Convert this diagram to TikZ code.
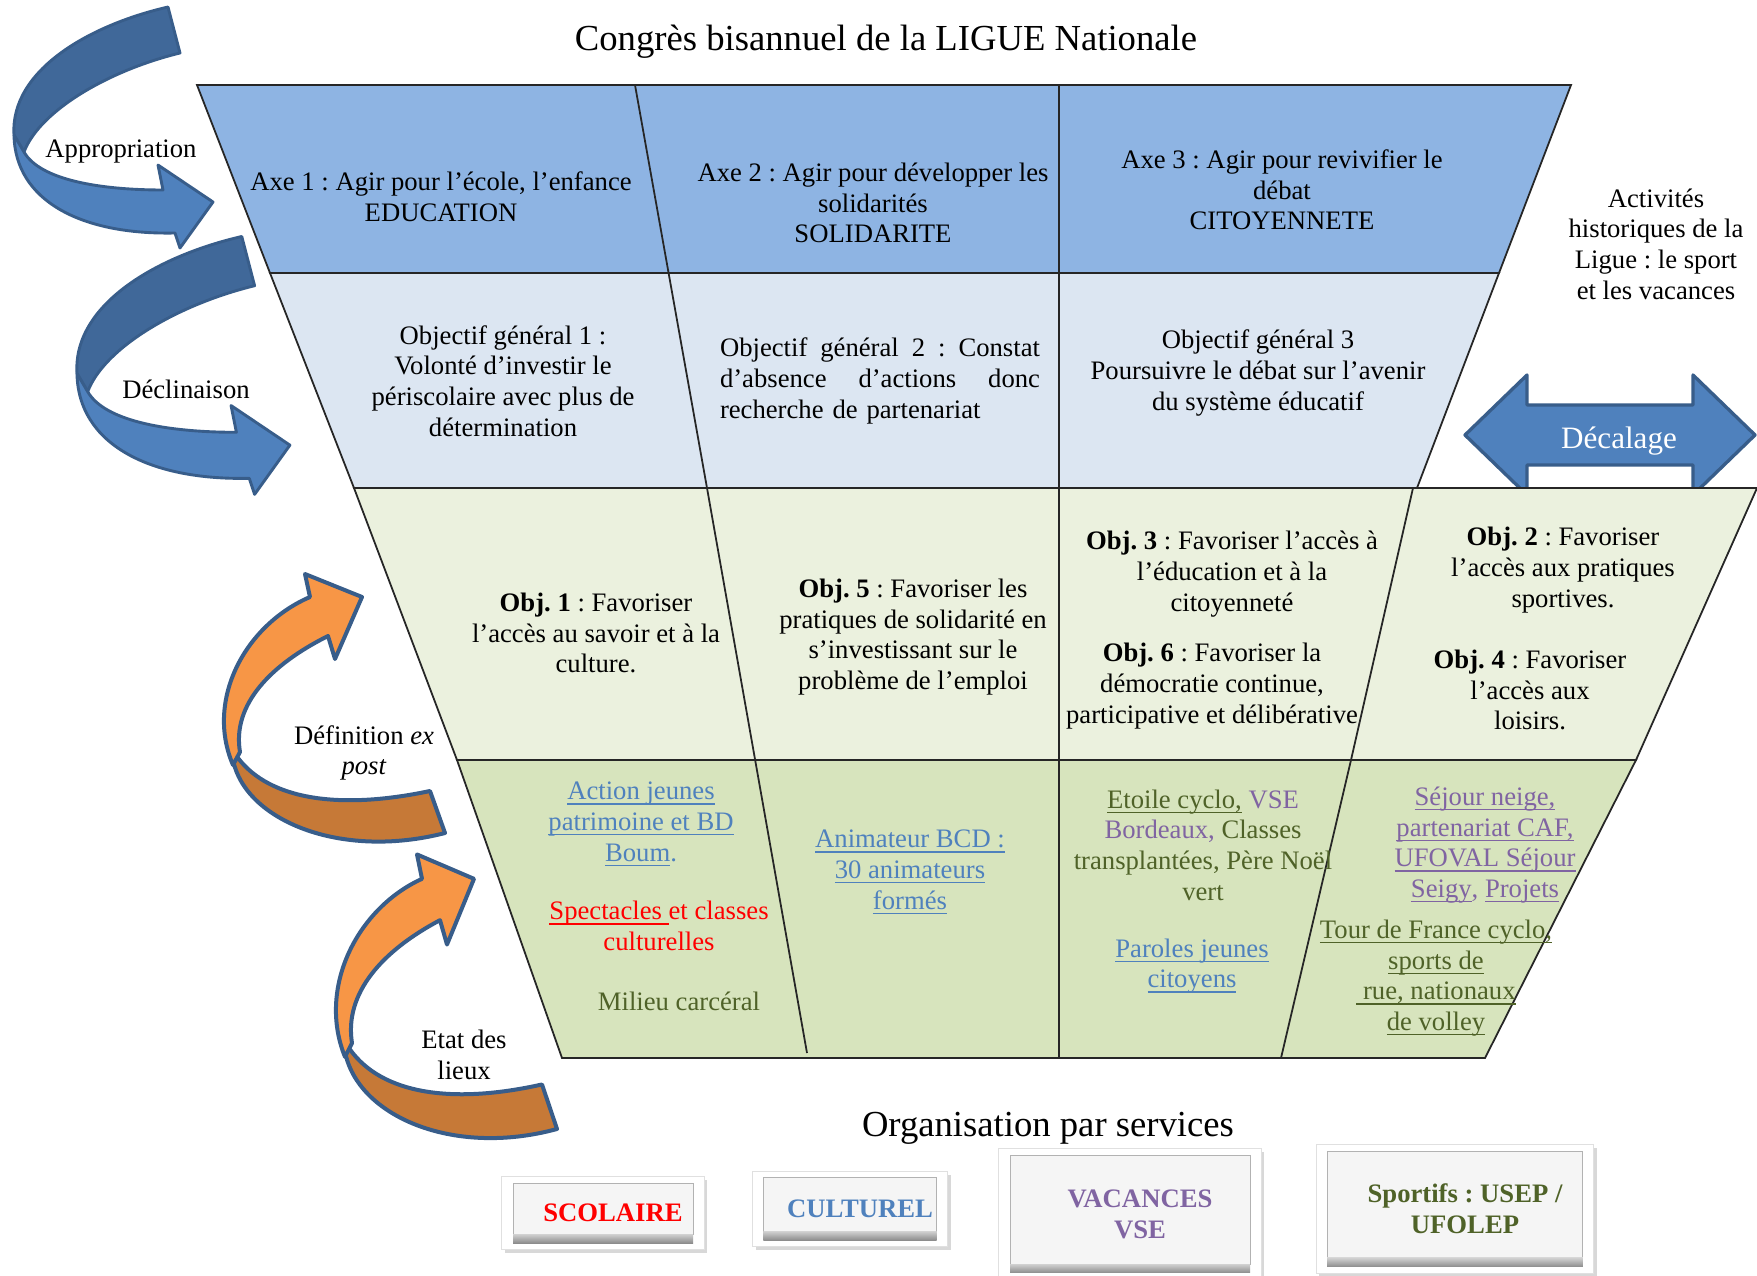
\documentclass[tikz,border=0pt]{standalone}
\usepackage{fontspec}
\setmainfont{Liberation Serif}
\usetikzlibrary{shadows}
\definecolor{axeblue}{RGB}{142,180,227}
\definecolor{genblue}{RGB}{220,230,242}
\definecolor{objgreen}{RGB}{235,241,222}
\definecolor{actgreen}{RGB}{215,228,189}
\definecolor{linkblue}{RGB}{79,129,189}
\definecolor{ufolepgreen}{RGB}{79,98,40}
\definecolor{vsepurple}{RGB}{128,100,162}
\definecolor{arrowlight}{RGB}{79,129,189}
\definecolor{arrowdark}{RGB}{64,104,153}
\definecolor{arrowline}{RGB}{56,93,138}
\definecolor{arroworange}{RGB}{247,150,70}
\definecolor{arrowbrown}{RGB}{198,121,55}
\newcommand{\lien}[1]{\leavevmode\setbox0\hbox{#1}\rlap{\rule[-2.2pt]{\wd0}{0.6pt}}\box0\relax}
\frenchspacing

\begin{document}
\begin{tikzpicture}[x=0.45pt, y=-0.45pt,
  every node/.style={align=center, font=\fontsize{12}{13.8}\selectfont},
  rowline/.style={draw=black!85, line width=0.8pt},
  bouton/.style={rectangle, fill=white, draw=black!12,
    drop shadow={opacity=0.3, shadow xshift=1.5pt, shadow yshift=-1.5pt},
    font=\bfseries\fontsize{12}{14}\selectfont,
    path picture={
      \fill[black!4, draw=black!30, line width=0.4pt]
        ([shift={(5pt,-3pt)}]path picture bounding box.north west) rectangle
        ([shift={(-5pt,7pt)}]path picture bounding box.south east);
      \shade[top color=black!18, bottom color=black!45]
        ([shift={(5pt,7pt)}]path picture bounding box.south west) rectangle
        ([shift={(-5pt,3pt)}]path picture bounding box.south east);
    }}]

\fill[white] (0,0) rectangle (1757,1276);
\useasboundingbox (0,0) rectangle (1757,1276);

% blue ribbons on the left
\foreach \dx/\dy/\s in {0/0/1, 62/229/1.07} {
  \begin{scope}[shift={(\dx,\dy)}, scale=\s]
    \filldraw[fill=arrowdark, draw=arrowline, line width=1.3pt, line join=round]
      (168,7) .. controls (90,25) and (10,70) .. (14,135) -- (24,152)
      .. controls (40,110) and (110,70) .. (180,53) -- cycle;
    \filldraw[fill=arrowlight, draw=arrowline, line width=1.3pt, line join=round]
      (14,135) .. controls (15,200) and (80,235) .. (175,233) -- (180,248) -- (213,202)
      -- (158,165) -- (163,190) .. controls (100,190) and (40,180) .. (24,152) -- cycle;
  \end{scope}
}

% orange ribbons
\foreach \dx/\dy/\s in {0/0/1, 112/246/1.06} {
  \begin{scope}[shift={(\dx,\dy)}, yscale=\s]
    \filldraw[fill=arrowbrown, draw=arrowline, line width=1.8pt, line join=round]
      (233,760) .. controls (245,820) and (340,860) .. (445,833) -- (430,791)
      .. controls (340,810) and (270,800) .. (238,758) -- cycle;
    \filldraw[fill=arroworange, draw=arrowline, line width=1.8pt, line join=round]
      (310,597) .. controls (245,625) and (205,700) .. (233,765) -- (240,752)
      .. controls (232,705) and (270,665) .. (328,636) -- (335,659) -- (362,597)
      -- (305,574) -- cycle;
  \end{scope}
}

% Decalage
\filldraw[fill=arrowlight, draw=arrowline, line width=1.5pt, line join=round]
  (1465,435) -- (1527,375) -- (1527,405) -- (1693,405) -- (1693,375) -- (1755,435)
  -- (1693,495) -- (1693,465) -- (1527,465) -- (1527,495) -- cycle;

% funnel
\draw[rowline, fill=axeblue] (197,85) -- (1571,85) -- (1499,273) -- (270,273) -- cycle;
\draw[rowline, fill=genblue] (270,273) -- (1499,273) -- (1417,488) -- (354,488) -- cycle;
\draw[rowline, fill=objgreen] (354,488) -- (1757,488) -- (1636,760) -- (457,760) -- cycle;
\draw[rowline, fill=actgreen] (457,760) -- (1636,760) -- (1485,1058) -- (562,1058) -- cycle;
\draw[rowline] (635,85) -- (707,488) -- (807,1053);
\draw[rowline] (1059,85) -- (1059,1058);
\draw[rowline] (1413,488) -- (1351,760) -- (1281,1058);

\node[font=\fontsize{16.5}{20}\selectfont] (titre) at (886,42) {Congrès bisannuel de la LIGUE Nationale};

\node (axe1) at (441,197) {Axe 1 : Agir pour l’école, l’enfance\\EDUCATION};
\node (axe2) at (873,203) {Axe 2 : Agir pour développer les\\solidarités\\SOLIDARITE};
\node (axe3) at (1282,190) {Axe 3 : Agir pour revivifier le\\débat\\CITOYENNETE};

\node (og1) at (503,381) {Objectif général 1 :\\Volonté d’investir le\\périscolaire avec plus de\\détermination};
\node[text width=144pt, align=left] (og2) at (880,381)
  {Objectif\hfill général\hfill 2\hfill :\hfill Constat\\d’absence\hfill d’actions\hfill donc\\recherche de partenariat};
\node (og3) at (1258,373) {Objectif général 3\\Poursuivre le débat sur l’avenir\\du système éducatif};
\node (histo) at (1656,244) {Activités\\historiques de la\\Ligue : le sport\\et les vacances};
\node[text=white, font=\fontsize{14}{16}\selectfont] (decalage) at (1619,441) {Décalage};

\node (obj1) at (596,633) {\textbf{Obj. 1} : Favoriser\\l’accès au savoir et à la\\culture.};
\node (obj5) at (913,637) {\textbf{Obj. 5} : Favoriser les\\pratiques de solidarité en\\s’investissant sur le\\problème de l’emploi};
\node (obj3) at (1232,574) {\textbf{Obj. 3} : Favoriser l’accès à\\l’éducation et à la\\citoyenneté};
\node (obj6) at (1212,686) {\textbf{Obj. 6} : Favoriser la\\démocratie continue,\\participative et délibérative};
\node (obj2) at (1563,570) {\textbf{Obj. 2} : Favoriser\\l’accès aux pratiques\\sportives.};
\node (obj4) at (1530,690) {\textbf{Obj. 4} : Favoriser\\l’accès aux\\loisirs.};

\node[text=linkblue] (bdboum) at (641,824) {\lien{Action jeunes}\\\lien{patrimoine et BD}\\\lien{Boum}.};
\node[text=red] (spectacles) at (659,926) {\lien{Spectacles\ }et classes\\culturelles};
\node[text=ufolepgreen] (carceral) at (679,1001) {Milieu carcéral};
\node[text=linkblue] (bcd) at (910,872) {\lien{Animateur BCD :}\\\lien{30 animateurs}\\\lien{formés}};
\node[text=ufolepgreen] (etoile) at (1203,845)
  {\lien{Etoile cyclo,} \textcolor{vsepurple}{VSE}\\\textcolor{vsepurple}{Bordeaux,} Classes\\transplantées, Père Noël\\vert};
\node[text=linkblue] (paroles) at (1192,966) {\lien{Paroles jeunes}\\\lien{citoyens}};
\node[text=vsepurple] (sejour) at (1485,845)
  {\lien{Séjour neige,}\\\lien{partenariat CAF,}\\\lien{UFOVAL Séjour}\\\lien{Seigy}, \lien{Projets}};
\node[text=ufolepgreen] (tourfrance) at (1436,978)
  {\lien{Tour de France cyclo,}\\\lien{sports de}\\\lien{\ rue, nationaux}\\\lien{de volley}};

\node (appro) at (121,152) {Appropriation};
\node (declin) at (186,389) {Déclinaison};
\node (expost) at (364,753) {Définition \textit{ex}\\\textit{post}};
\node (etatlieux) at (464,1055) {Etat des\\lieux};

\node[font=\fontsize{16.5}{20}\selectfont] (orga) at (1048,1128) {Organisation par services};
\node[bouton, minimum width=91pt, minimum height=33pt, text=red] (scolaire) at (603,1213) {\hspace*{9pt}SCOLAIRE};
\node[bouton, minimum width=88pt, minimum height=34pt, text=linkblue] (culturel) at (850,1209) {\hspace*{9pt}CULTUREL};
\node[bouton, minimum width=118pt, minimum height=59pt, text=vsepurple] (vacances) at (1130,1214) {\hspace*{9pt}VACANCES\\\hspace*{9pt}VSE};
\node[bouton, minimum width=125pt, minimum height=58pt, text=ufolepgreen] (sportifs) at (1455,1209) {\hspace*{9pt}Sportifs : USEP /\\\hspace*{9pt}UFOLEP};
\end{tikzpicture}
\end{document}
